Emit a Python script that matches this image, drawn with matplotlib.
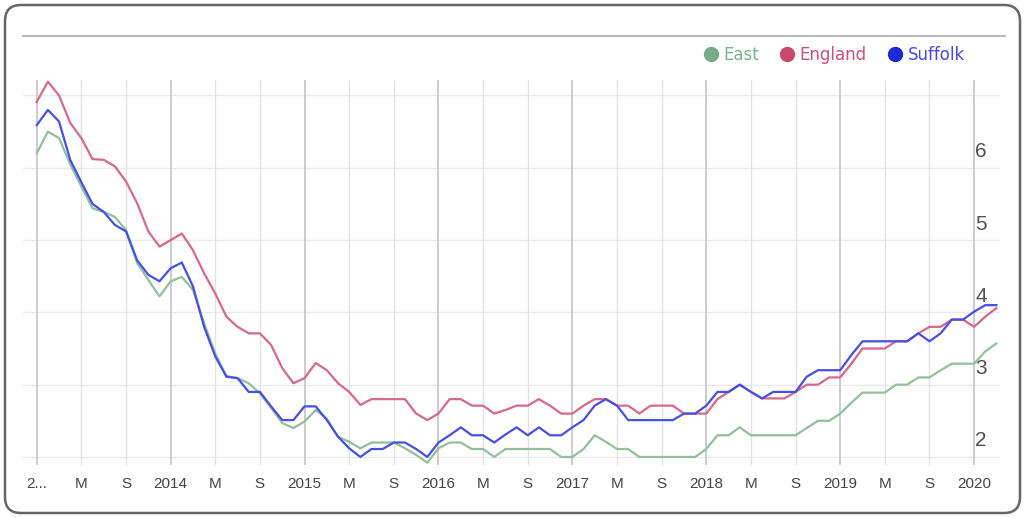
import numpy as np
import matplotlib
matplotlib.use("Agg")
import matplotlib.pyplot as plt
import matplotlib.transforms as mtrans
from matplotlib.patches import FancyBboxPatch
from matplotlib.lines import Line2D

# monthly values, Jan 2013 .. Mar 2020
months = np.arange(87)

east = [6.20, 6.50, 6.41, 6.05, 5.74, 5.44, 5.39, 5.32, 5.14, 4.68,
        4.45, 4.22, 4.43, 4.49, 4.31, 3.85, 3.43, 3.12, 3.09, 3.02,
        2.88, 2.68, 2.47, 2.40, 2.49, 2.65, 2.53, 2.28, 2.21, 2.12,
        2.20, 2.20, 2.20, 2.12, 2.03, 1.92, 2.12, 2.20, 2.20, 2.11,
        2.11, 2.00, 2.11, 2.11, 2.11, 2.11, 2.11, 2.00, 2.00, 2.11,
        2.30, 2.21, 2.11, 2.11, 2.00, 2.00, 2.00, 2.00, 2.00, 2.00,
        2.11, 2.30, 2.30, 2.41, 2.30, 2.30, 2.30, 2.30, 2.30, 2.40,
        2.50, 2.50, 2.60, 2.75, 2.89, 2.89, 2.89, 3.00, 3.00, 3.10,
        3.10, 3.20, 3.29, 3.29, 3.29, 3.46, 3.57]

england = [6.91, 7.19, 7.00, 6.62, 6.41, 6.12, 6.11, 6.02, 5.81, 5.51,
           5.12, 4.91, 5.00, 5.09, 4.86, 4.54, 4.26, 3.94, 3.80, 3.71,
           3.71, 3.55, 3.23, 3.02, 3.09, 3.30, 3.20, 3.02, 2.90, 2.72,
           2.80, 2.80, 2.80, 2.80, 2.60, 2.51, 2.60, 2.80, 2.80, 2.71,
           2.71, 2.60, 2.65, 2.71, 2.71, 2.80, 2.71, 2.60, 2.60, 2.71,
           2.80, 2.80, 2.71, 2.71, 2.60, 2.71, 2.71, 2.71, 2.60, 2.60,
           2.60, 2.80, 2.90, 3.00, 2.90, 2.81, 2.81, 2.81, 2.90, 3.00,
           3.00, 3.10, 3.10, 3.29, 3.50, 3.50, 3.50, 3.60, 3.60, 3.71,
           3.80, 3.80, 3.90, 3.90, 3.80, 3.94, 4.06]

suffolk = [6.59, 6.80, 6.64, 6.11, 5.80, 5.50, 5.39, 5.21, 5.12, 4.72,
           4.52, 4.43, 4.61, 4.69, 4.36, 3.80, 3.39, 3.11, 3.09, 2.90,
           2.90, 2.70, 2.51, 2.51, 2.70, 2.70, 2.51, 2.28, 2.12, 2.00,
           2.11, 2.11, 2.20, 2.20, 2.11, 2.00, 2.20, 2.30, 2.41, 2.30,
           2.30, 2.20, 2.31, 2.41, 2.30, 2.41, 2.30, 2.30, 2.41, 2.51,
           2.71, 2.80, 2.71, 2.51, 2.51, 2.51, 2.51, 2.51, 2.60, 2.60,
           2.71, 2.90, 2.90, 3.00, 2.90, 2.81, 2.90, 2.90, 2.90, 3.11,
           3.20, 3.20, 3.20, 3.41, 3.60, 3.60, 3.60, 3.60, 3.60, 3.71,
           3.60, 3.71, 3.90, 3.90, 4.01, 4.10, 4.10]

tick_pos = list(range(0, 85, 4))
tick_lab = ["2...", "M", "S", "2014", "M", "S", "2015", "M", "S", "2016", "M", "S",
            "2017", "M", "S", "2018", "M", "S", "2019", "M", "S", "2020"]
year_pos = [0, 12, 24, 36, 48, 60, 72, 84]
y_grid = [2, 3, 4, 5, 6, 7]
y_lab = [2, 3, 4, 5, 6]

W, H = 1026, 518
fig = plt.figure(figsize=(W / 100, H / 100), dpi=100)
fig.patch.set_facecolor("white")

ax = fig.add_axes([23 / W, 1 - 465 / H, 977 / W, 385 / H])
ax.set_xlim(-1.23, 86.32)
ax.set_ylim(1.889, 7.214)
for s in ax.spines.values():
    s.set_visible(False)

# grid
for v in y_grid:
    ax.axhline(v, color="#eaeaea", lw=1.0, zorder=0)
for p in tick_pos:
    if p in year_pos:
        ax.axvline(p, color="#c8c8c8", lw=1.3, zorder=1)
    else:
        ax.axvline(p, color="#e3e3e3", lw=1.0, zorder=1)

ax.plot(months, east, color="#93bf9c", lw=1.6, zorder=3)
ax.plot(months, england, color="#d5688c", lw=1.6, zorder=4)
ax.plot(months, suffolk, color="#4650e4", lw=1.6, zorder=5)

ax.set_xticks(tick_pos)
ax.set_xticklabels(tick_lab, fontfamily="Liberation Sans", fontsize=11, color="#444444")
ax.tick_params(axis="x", length=0, pad=9)
ax.set_yticks([])

# y labels inside, above gridlines
blend = mtrans.blended_transform_factory(ax.transAxes, ax.transData)
shift = mtrans.ScaledTranslation(0, 16 / 100, fig.dpi_scale_trans)
for v in y_lab:
    ax.text(0.9806, v, str(v), transform=blend + shift, ha="center", va="center",
            fontfamily="Liberation Sans", fontsize=15, color="#505050")

# legend
handles = [Line2D([], [], ls="none", marker="o", ms=10, color=c)
           for c in ["#79ab86", "#c94a6e", "#1c2bd6"]]
fig.legend(handles, ["East", "England", "Suffolk"], loc="center right",
           bbox_to_anchor=(980 / W, 1 - 55 / H), ncol=3, frameon=False,
           handletextpad=0.25, columnspacing=1.2, handlelength=1.0,
           labelcolor=["#7db38a", "#c9507a", "#4a4ad8"],
           prop={"family": "DejaVu Sans", "size": 12})

# frame and top rule
over = fig.add_axes([0, 0, 1, 1], zorder=10)
over.set_xlim(0, W)
over.set_ylim(H, 0)
over.axis("off")
over.patch.set_alpha(0)
over.add_patch(FancyBboxPatch((5, 5), 1015, 508, boxstyle="round,pad=0,rounding_size=16",
                              fc="none", ec="#666666", lw=1.8))
over.plot([23, 1005], [36, 36], color="#aaaaaa", lw=1.2)

fig.savefig("out.png", dpi=100, facecolor="white")
